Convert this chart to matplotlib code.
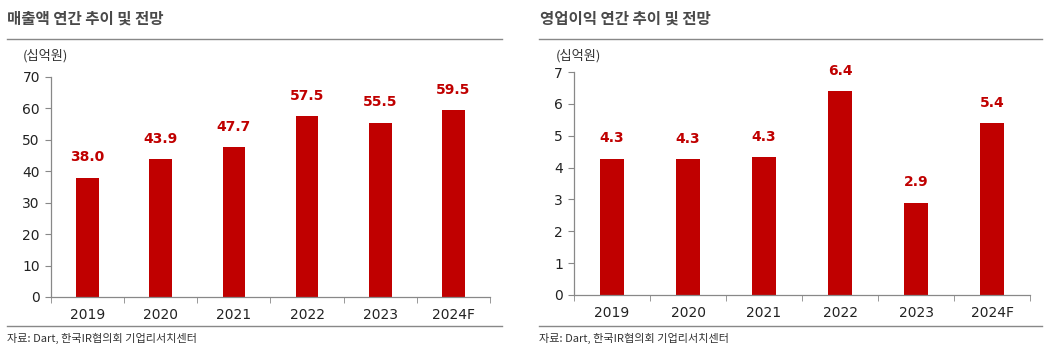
import matplotlib
matplotlib.use("Agg")
import matplotlib.pyplot as plt
from matplotlib.lines import Line2D
import numpy as np

plt.rcParams['font.family'] = ['Noto Sans CJK KR', 'DejaVu Sans']

years = ["2019", "2020", "2021", "2022", "2023", "2024F"]
revenue = [38.0, 43.9, 47.7, 57.5, 55.5, 59.5]
op_income = [4.28, 4.27, 4.33, 6.4, 2.9, 5.4]
revenue_labels = ["38.0", "43.9", "47.7", "57.5", "55.5", "59.5"]
op_labels = ["4.3", "4.3", "4.3", "6.4", "2.9", "5.4"]

RED = "#C00000"
W, H = 1046, 348
fig = plt.figure(figsize=(W / 100, H / 100), dpi=100)


def px(x0, y0, x1, y1):
    return [x0 / W, 1 - y1 / H, (x1 - x0) / W, (y1 - y0) / H]


def panel(rect, values, labels, ymax, ystep, title, title_x, sep, unit_xy, foot_x):
    ax = fig.add_axes(px(*rect))
    x = np.arange(len(years))
    ax.bar(x, values, width=0.31, color=RED, zorder=2)
    for xi, v, lab in zip(x, values, labels):
        ax.annotate(lab, (xi, v), xytext=(0, 9.5), textcoords='offset points',
                    ha='center', va='bottom', color=RED,
                    fontsize=10, fontweight='bold', family=['DejaVu Sans'])
    ax.set_xlim(-0.5, len(years) - 0.5)
    ax.set_ylim(0, ymax)
    ax.set_yticks(np.arange(0, ymax + 0.001, ystep))
    ax.set_xticks(x)
    ax.set_xticklabels(years)
    ax.set_xticks(np.arange(-0.5, len(years), 1.0), minor=True)
    ax.tick_params(axis='x', which='major', length=0, pad=8, labelsize=10, colors='#222222')
    ax.tick_params(axis='x', which='minor', length=4, color='#888888', direction='out')
    ax.tick_params(axis='y', length=4, color='#888888', labelsize=10, labelcolor='#222222', pad=4)
    for s in ['top', 'right']:
        ax.spines[s].set_visible(False)
    for s in ['left', 'bottom']:
        ax.spines[s].set_color('#888888')
        ax.spines[s].set_linewidth(0.9)
    for lab in ax.get_xticklabels() + ax.get_yticklabels():
        lab.set_family(['DejaVu Sans'])
    fig.text(title_x / W, 1 - 19 / H, title, fontsize=11.2, fontweight='bold',
             color='#4a4a4a', ha='left', va='center')
    fig.add_artist(Line2D([sep[0] / W, sep[1] / W], [1 - 39 / H, 1 - 39 / H],
                          color='#888888', lw=1.0))
    fig.add_artist(Line2D([sep[0] / W, sep[1] / W], [1 - 326 / H, 1 - 326 / H],
                          color='#888888', lw=1.0))
    fig.text(unit_xy[0] / W, 1 - unit_xy[1] / H, "(십억원)", fontsize=9.5,
             color='#333333', ha='left', va='center')
    fig.text(foot_x / W, 1 - 338 / H, "자료: Dart, 한국IR협의회 기업리서치센터", fontsize=8,
             color='#333333', ha='left', va='center')
    return ax


panel((51, 77, 490, 297), revenue, revenue_labels, 70, 10, "매출액 연간 추이 및 전망",
      7, (7, 502), (23, 56), 7)
panel((574, 72, 1030, 295), op_income, op_labels, 7, 1, "영업이익 연간 추이 및 전망",
      540, (539, 1042), (556, 56), 539)

fig.savefig("out.png", dpi=100)
